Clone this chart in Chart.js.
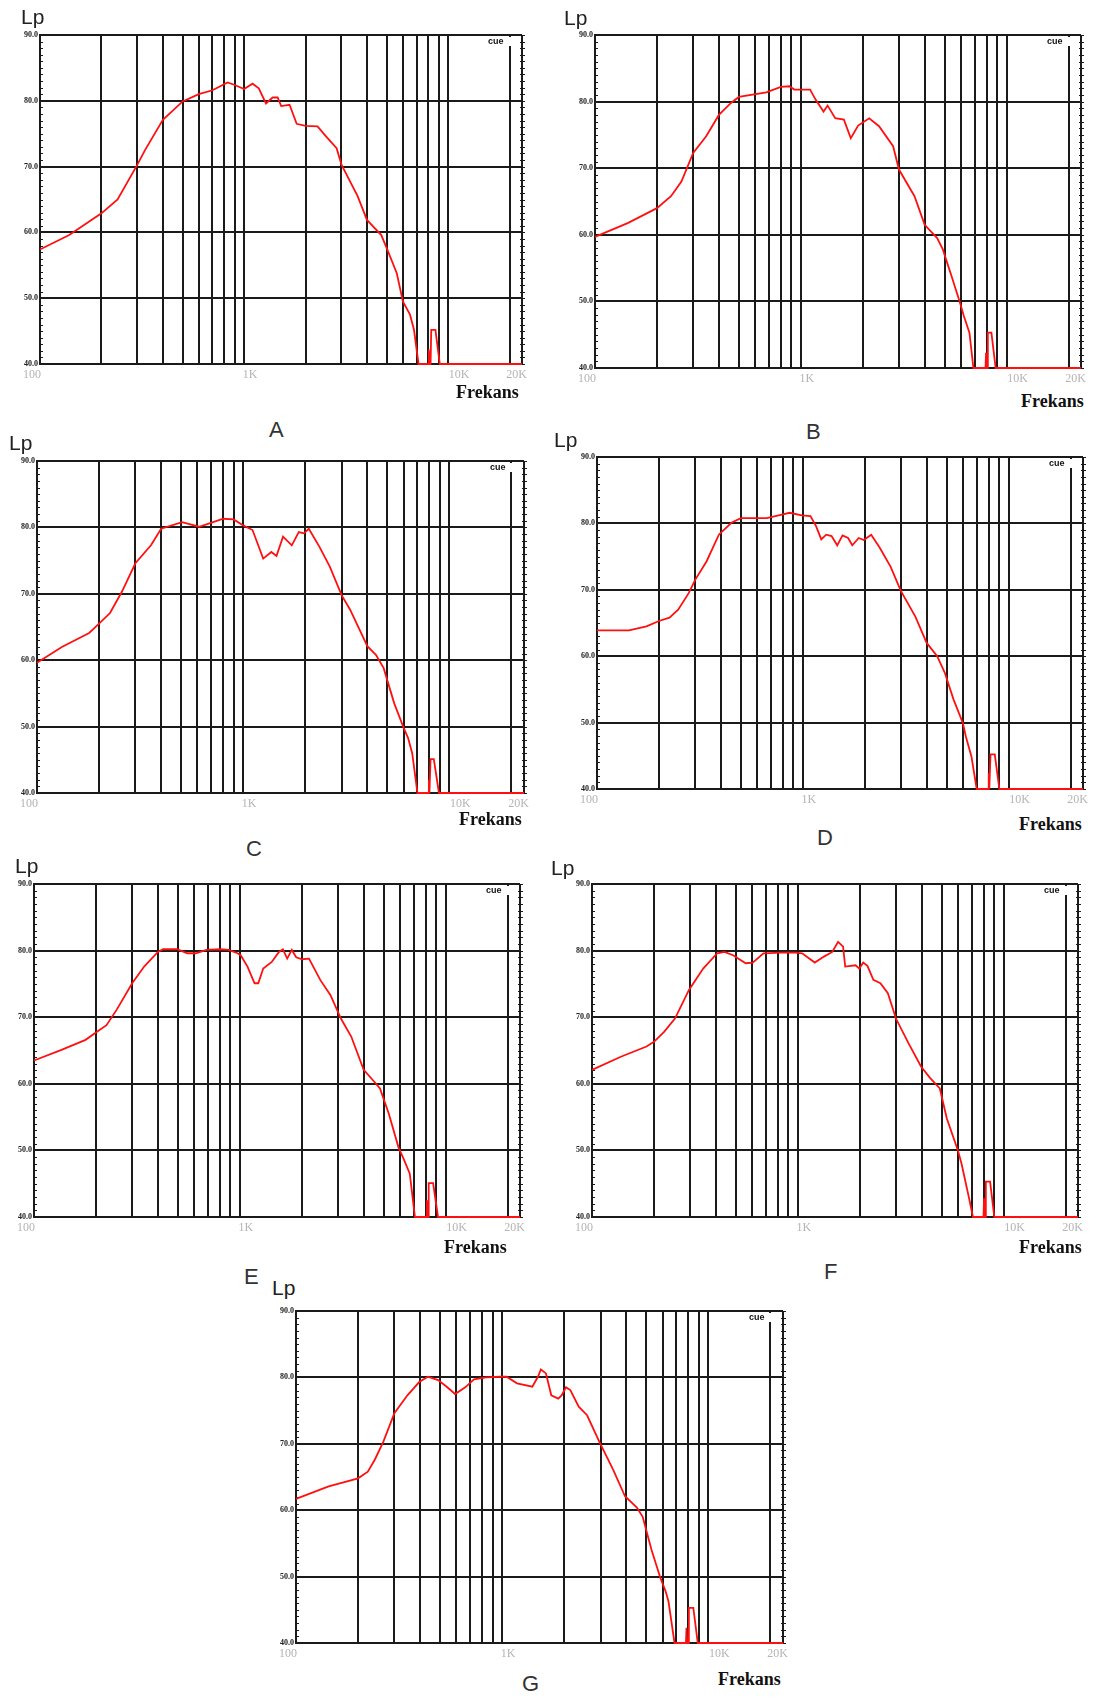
<!DOCTYPE html>
<html>
<head>
<meta charset="utf-8">
<title>Lp / Frekans</title>
<script src="https://cdn.jsdelivr.net/npm/chart.js@4.4.0/dist/chart.umd.min.js"></script>
<style>
  body { margin: 0; background: #fff; }
  #page { position: relative; width: 1096px; height: 1700px; overflow: hidden; background: #fff; }
  canvas { position: absolute; }
  .lp { position: absolute; font: 21px "Liberation Sans", Arial, sans-serif; line-height: 21px; color: #222; }
  .fr { position: absolute; font: bold 18px "Liberation Serif", "Times New Roman", serif; line-height: 18px; color: #111; }
  .tag { position: absolute; font: 22px "Liberation Sans", Arial, sans-serif; line-height: 22px; color: #333; }
</style>
</head>
<body>
<div id="page"></div>
<script>
// axis values
var yMin = 40, yMax = 90;
var yTicks = [40, 50, 60, 70, 80, 90];
var xMin = 100, xMax = 23000;
var gridFreqs = [100, 200, 300, 400, 500, 600, 700, 800, 900, 1000, 2000, 3000, 4000, 5000, 6000, 7000, 8000, 9000, 10000, 20000, 23000];
var xLabelValues = [100, 1000, 10000, 20000];
var xLabels = ['100', '1K', '10K', '20K'];

// curves (Hz / dB)
var freqA = [100, 139, 200, 240, 300, 327, 400, 500, 600, 700, 830, 900, 1000, 1100, 1180, 1280, 1380, 1460, 1520, 1670, 1810, 2000, 2290, 2520, 2840, 3000, 3600, 4000, 4700, 5000, 5600, 6000, 6500, 6800, 7160, 7980, 8040, 8100, 8200, 8260, 8660, 9100, 23000];
var lpA = [57.4, 59.6, 62.9, 65.0, 70.3, 72.5, 77.1, 79.9, 81.0, 81.6, 82.8, 82.4, 81.8, 82.6, 81.9, 79.6, 80.5, 80.5, 79.2, 79.4, 76.5, 76.2, 76.1, 74.6, 72.8, 70.3, 65.5, 61.9, 59.6, 57.6, 53.8, 49.5, 47.5, 45.2, 40, 40, 42.2, 40, 40, 45.2, 45.2, 40, 40];

var freqB = [100, 145, 200, 234, 263, 300, 347, 400, 458, 500, 680, 800, 880, 930, 1000, 1110, 1180, 1290, 1350, 1470, 1620, 1750, 1900, 2150, 2400, 2810, 3000, 3570, 4000, 4600, 4900, 5400, 5940, 6200, 6600, 6900, 7900, 7950, 8000, 8050, 8110, 8440, 8850, 23000];
var lpB = [59.7, 61.8, 64.0, 65.8, 68.0, 72.3, 74.8, 78.0, 79.8, 80.7, 81.4, 82.2, 82.3, 81.8, 81.8, 81.8, 80.3, 78.5, 79.4, 77.5, 77.3, 74.5, 76.4, 77.5, 76.3, 73.3, 69.8, 65.8, 61.5, 59.5, 57.8, 53.8, 49.8, 47.8, 45.3, 40, 40, 42.3, 40, 40, 45.3, 45.3, 40, 40];

var freqC = [100, 132, 179, 200, 226, 258, 300, 357, 400, 505, 611, 686, 800, 899, 1000, 1110, 1250, 1370, 1450, 1560, 1720, 1860, 1970, 2080, 2340, 2630, 3000, 3300, 4000, 4400, 4800, 5400, 6000, 6300, 6600, 7000, 7900, 7950, 8000, 8050, 8100, 8400, 8900, 23000];
var lpC = [59.6, 62.0, 64.1, 65.5, 67.1, 70.3, 74.6, 77.3, 79.8, 80.8, 80.1, 80.6, 81.3, 81.2, 80.3, 79.6, 75.3, 76.3, 75.7, 78.6, 77.3, 79.3, 79.1, 79.8, 77.1, 74.1, 69.8, 67.6, 62.1, 60.8, 58.8, 53.5, 49.8, 48.3, 46.0, 40, 40, 42.0, 40, 40, 45.1, 45.1, 40, 40];

var freqD = [100, 143, 174, 200, 225, 248, 279, 300, 341, 391, 450, 500, 668, 782, 863, 990, 1090, 1160, 1230, 1300, 1380, 1470, 1560, 1660, 1740, 1870, 1980, 2150, 2370, 2670, 3000, 3520, 4000, 4500, 4900, 5400, 6000, 6200, 6600, 7000, 7960, 8010, 8060, 8120, 8170, 8570, 9020, 23000];
var lpD = [63.9, 63.9, 64.5, 65.3, 65.8, 67.0, 69.5, 71.5, 74.3, 78.3, 80.1, 80.8, 80.8, 81.3, 81.6, 81.2, 81.1, 79.6, 77.6, 78.3, 78.1, 76.7, 78.2, 77.8, 76.7, 77.8, 77.5, 78.3, 76.3, 73.5, 69.8, 66.0, 62.0, 60.0, 57.5, 53.5, 49.9, 47.9, 44.9, 40, 40, 42.4, 40, 40, 45.2, 45.2, 40, 40];

var freqE = [100, 136, 178, 200, 225, 252, 300, 343, 400, 424, 496, 556, 612, 688, 800, 883, 975, 1010, 1090, 1180, 1230, 1300, 1430, 1550, 1620, 1700, 1790, 1880, 2010, 2170, 2460, 2760, 3100, 3480, 4000, 4450, 4800, 5300, 5900, 6300, 6700, 7100, 8070, 8120, 8170, 8230, 8280, 8700, 9190, 23000];
var lpE = [63.5, 65.1, 66.6, 67.7, 68.8, 71.1, 75.1, 77.6, 79.8, 80.2, 80.2, 79.6, 79.6, 80.1, 80.2, 80.1, 79.6, 79.3, 77.6, 75.1, 75.1, 77.3, 78.3, 79.8, 80.2, 78.8, 80.1, 79.0, 78.7, 78.8, 75.6, 73.3, 69.8, 67.1, 62.1, 60.5, 59.3, 55.5, 50.5, 48.5, 46.5, 40, 40, 42.5, 40, 40, 45.1, 45.1, 40, 40];

var freqF = [100, 139, 184, 200, 224, 253, 296, 347, 406, 440, 485, 558, 604, 681, 830, 972, 1050, 1210, 1340, 1470, 1570, 1660, 1700, 1910, 1990, 2080, 2180, 2330, 2520, 2740, 3000, 3450, 3970, 4390, 4900, 5300, 6000, 6250, 6800, 7100, 7990, 8040, 8090, 8150, 8200, 8600, 9020, 23000];
var lpF = [62.1, 64.1, 65.6, 66.3, 67.8, 69.8, 74.1, 77.3, 79.6, 79.8, 79.3, 78.1, 78.2, 79.6, 79.7, 79.7, 79.6, 78.2, 79.1, 79.8, 81.3, 80.6, 77.6, 77.8, 77.3, 78.2, 77.7, 75.6, 75.1, 73.6, 69.8, 66.1, 62.6, 60.9, 59.3, 54.8, 50.0, 48.0, 42.8, 40, 40, 42.8, 40, 40, 45.3, 45.3, 40, 40];

var freqG = [100, 144, 200, 223, 241, 265, 300, 347, 396, 436, 489, 538, 591, 662, 730, 835, 975, 1050, 1180, 1400, 1490, 1540, 1630, 1730, 1870, 1940, 2040, 2140, 2350, 2580, 2960, 3450, 3940, 4500, 4800, 5300, 5850, 6200, 6400, 6850, 7780, 7830, 7880, 7990, 8040, 8450, 8880, 23000];
var lpG = [61.7, 63.6, 64.8, 65.8, 67.6, 70.3, 74.6, 77.3, 79.3, 80.1, 79.6, 78.6, 77.5, 78.5, 79.7, 80.0, 80.1, 80.1, 79.1, 78.6, 80.1, 81.2, 80.6, 77.3, 76.8, 77.3, 78.5, 78.1, 75.6, 74.3, 70.3, 66.1, 62.1, 60.4, 59.0, 54.0, 49.8, 47.8, 46.3, 40, 40, 42.3, 40, 40, 45.3, 45.3, 40, 40];

// panel layout: plot box [left, top, right, bottom], text spots
var panels = [
  { tag: 'A', freq: freqA, lp: lpA, box: [40, 35, 522, 364],     lpAt: [21, 6],     frAt: [456, 383],  tagAt: [269, 419] },
  { tag: 'B', freq: freqB, lp: lpB, box: [595, 35, 1081, 368],   lpAt: [564, 7],    frAt: [1021, 392], tagAt: [806, 421] },
  { tag: 'C', freq: freqC, lp: lpC, box: [37, 461, 524, 793],    lpAt: [9, 432],    frAt: [459, 810],  tagAt: [246, 838] },
  { tag: 'D', freq: freqD, lp: lpD, box: [597, 457, 1083, 789],  lpAt: [554, 429],  frAt: [1019, 815], tagAt: [817, 827] },
  { tag: 'E', freq: freqE, lp: lpE, box: [34, 884, 520, 1217],   lpAt: [15, 855],   frAt: [444, 1238], tagAt: [244, 1266] },
  { tag: 'F', freq: freqF, lp: lpF, box: [592, 884, 1078, 1217], lpAt: [551, 857],  frAt: [1019, 1238], tagAt: [824, 1261] },
  { tag: 'G', freq: freqG, lp: lpG, box: [296, 1311, 783, 1643], lpAt: [272, 1277], frAt: [718, 1670], tagAt: [522, 1673] }
];

var pad = { left: 36, right: 12, top: 12, bottom: 22 };
var ink = '#1a1a1a';

// small ticks, tick labels and the corner mark
var decor = {
  id: 'decor',
  beforeDatasetsDraw: function (chart) {
    var ctx = chart.ctx, xs = chart.scales.x, ys = chart.scales.y, a = chart.chartArea;
    ctx.save();
    ctx.strokeStyle = ink;
    ctx.lineWidth = 1;
    for (var v = yMin; v <= yMax; v++) {
      var py = Math.round(ys.getPixelForValue(v)) + 0.5;
      ctx.beginPath();
      ctx.moveTo(a.left, py); ctx.lineTo(a.left + 3, py);
      ctx.moveTo(a.right - 2, py); ctx.lineTo(a.right + 3, py);
      ctx.stroke();
    }

    ctx.fillStyle = '#222';
    ctx.font = 'bold 8px "Liberation Serif", serif';
    ctx.textAlign = 'right';
    ctx.textBaseline = 'middle';
    yTicks.forEach(function (v) {
      ctx.fillText(v.toFixed(1), a.left - 2, ys.getPixelForValue(v));
    });

    var shift = [-8, 6, 11, 7];
    ctx.fillStyle = '#b4b4b4';
    ctx.font = '12px "Liberation Serif", serif';
    ctx.textAlign = 'center';
    xLabelValues.forEach(function (v, i) {
      ctx.fillText(xLabels[i], xs.getPixelForValue(v) + shift[i], a.bottom + 11);
    });

    ctx.fillStyle = '#fff';
    ctx.fillRect(a.right - 36, a.top + 2, 31, 9);
    ctx.fillStyle = '#111';
    ctx.font = 'bold 9px "Liberation Sans", sans-serif';
    ctx.textAlign = 'left';
    ctx.fillText('cue', a.right - 34, a.top + 7);
    ctx.restore();
  }
};

var page = document.getElementById('page');

function addText(cls, txt, at) {
  var d = document.createElement('div');
  d.className = cls;
  d.textContent = txt;
  d.style.left = at[0] + 'px';
  d.style.top = at[1] + 'px';
  page.appendChild(d);
}

panels.forEach(function (p) {
  var b = p.box;
  var w = (b[2] - b[0]) + pad.left + pad.right;
  var h = (b[3] - b[1]) + pad.top + pad.bottom;
  var cv = document.createElement('canvas');
  cv.width = w; cv.height = h;
  cv.style.width = w + 'px'; cv.style.height = h + 'px';
  cv.style.left = (b[0] - pad.left) + 'px';
  cv.style.top = (b[1] - pad.top) + 'px';
  page.appendChild(cv);

  new Chart(cv, {
    type: 'line',
    data: {
      datasets: [{
        data: p.freq.map(function (f, i) { return { x: f, y: p.lp[i] }; }),
        borderColor: '#ff1010',
        borderWidth: 1.8,
        pointRadius: 0,
        tension: 0,
        fill: false,
        clip: 4
      }]
    },
    options: {
      responsive: false,
      animation: false,
      devicePixelRatio: 1,
      events: [],
      layout: { padding: pad },
      plugins: { legend: { display: false }, tooltip: { enabled: false } },
      scales: {
        x: {
          type: 'logarithmic',
          min: xMin,
          max: xMax,
          afterBuildTicks: function (s) { s.ticks = gridFreqs.map(function (v) { return { value: v }; }); },
          ticks: { display: false },
          grid: { color: ink, lineWidth: 2, drawTicks: false },
          border: { color: ink, width: 2 }
        },
        y: {
          min: yMin,
          max: yMax,
          ticks: { display: false, stepSize: 10 },
          grid: { color: ink, lineWidth: 2, drawTicks: false },
          border: { color: ink, width: 2 }
        }
      }
    },
    plugins: [decor]
  });

  addText('lp', 'Lp', p.lpAt);
  addText('fr', 'Frekans', p.frAt);
  addText('tag', p.tag, p.tagAt);
});
</script>
</body>
</html>
